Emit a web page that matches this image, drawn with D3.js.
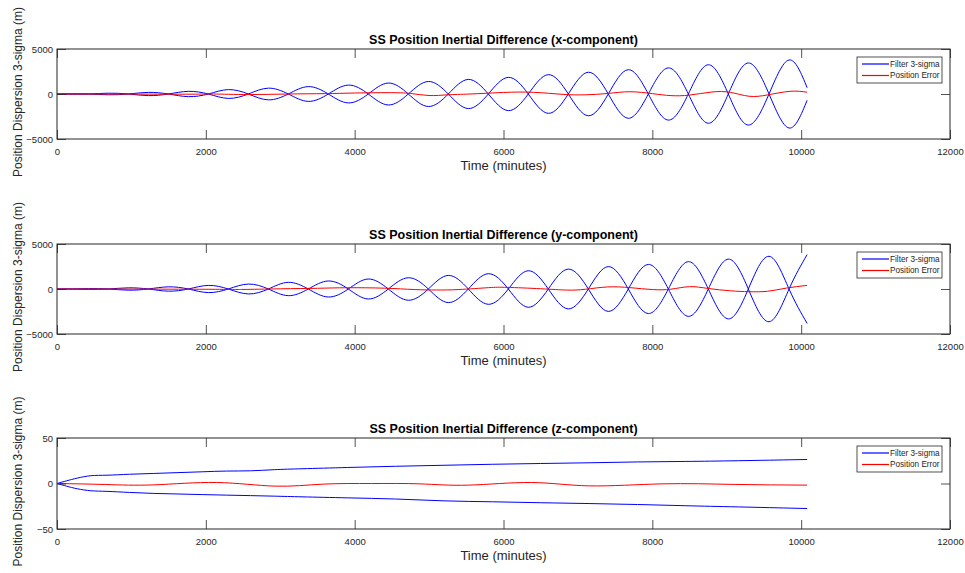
<!DOCTYPE html>
<html><head><meta charset="utf-8">
<script src="https://cdn.jsdelivr.net/npm/d3@7"></script>
<style>
html,body{margin:0;padding:0;background:#fff;}
svg{display:block;font-family:"Liberation Sans",Arial,Helvetica,sans-serif;}
</style></head>
<body>
<svg id="chart" width="965" height="573"></svg>
<script>
// ---------------- data ----------------
const timeTicks = [0, 2000, 4000, 6000, 8000, 10000, 12000];
const titles = [
  "SS Position Inertial Difference (x-component)",
  "SS Position Inertial Difference (y-component)",
  "SS Position Inertial Difference (z-component)"
];
const legendLabels = ["Filter 3-sigma", "Position Error"];
const yTicksXY = [-5000, 0, 5000];
const yTicksZ = [-50, 0, 50];

// x-component: filter 3-sigma (zero crossings and lobe peaks), plotted as +/-
const sigXTime = [0, 152, 421, 690, 958, 1227, 1496, 1765, 2033, 2302, 2571, 2840, 3108, 3377, 3646, 3915, 4183, 4452, 4721, 4990, 5258, 5527, 5796, 6065, 6333, 6602, 6871, 7140, 7408, 7677, 7946, 8215, 8484, 8752, 9021, 9290, 9568, 9837, 10080];
const sigXVal  = [0, 20, 0, -90, 0, 180, 0, -295, 0, 490, 0, -650, 0, 820, 0, -990, 0, 1220, 0, -1390, 0, 1620, 0, -1850, 0, 2150, 0, -2420, 0, 2700, 0, -2900, 0, 3250, 0, -3450, 0, 3780, 700];
// x-component: position error
const errXTime = [0, 1000, 1800, 2100, 2570, 3100, 3600, 4000, 4450, 4750, 5000, 5250, 5550, 6000, 6400, 6800, 7100, 7400, 7700, 8000, 8250, 8500, 8800, 9050, 9300, 9550, 9850, 10080];
const errXVal  = [0, -10, -20, 0, -60, 0, 40, 110, 150, 60, -170, -90, 0, 170, 190, -40, -90, 60, 250, 40, -180, -120, 220, 180, -250, -100, 300, 200];

// y-component: filter 3-sigma
const sigYTime = [0, 152, 421, 690, 958, 1227, 1496, 1765, 2033, 2302, 2571, 2840, 3108, 3377, 3646, 3915, 4183, 4452, 4721, 4990, 5258, 5527, 5796, 6065, 6333, 6602, 6871, 7140, 7408, 7677, 7946, 8215, 8484, 8752, 9021, 9290, 9568, 9837, 10080];
const sigYVal  = [0, 0, 40, 0, -130, 0, 240, 0, -400, 0, 550, 0, -740, 0, 890, 0, -1110, 0, 1250, 0, -1510, 0, 1700, 0, -2030, 0, 2214, 0, -2490, 0, 2730, 0, -3040, 0, 3320, 0, -3635, 0, 3820];
// y-component: position error
const errYTime = [0, 2000, 2500, 3000, 3500, 3900, 4400, 4800, 5100, 5400, 5800, 6050, 6500, 6850, 7100, 7400, 7700, 8000, 8250, 8500, 8750, 9050, 9300, 9550, 9800, 10080];
const errYVal  = [0, -30, -50, 20, 80, 140, 90, -60, -110, -60, 150, 180, 30, -120, -30, 230, 150, -60, -20, 260, 60, -200, -300, -250, 100, 400];

// z-component: filter 3-sigma upper and lower
const sigZTime  = [0, 130, 260, 455, 650, 975, 1300, 1626, 1950, 2276, 2600, 2927, 3252, 3900, 4550, 5200, 5850, 6500, 7150, 7800, 8450, 9100, 10080];
const sigZUpper = [0, 3.0, 5.8, 9.2, 8.8, 10.3, 11, 12, 12.8, 13.9, 13.6, 15.4, 16.1, 17.6, 19, 20, 21.2, 22, 22.7, 23.8, 24.2, 24.9, 26.4];
const sigZLower = [0, -3.0, -5.8, -8.4, -8.4, -9.9, -11, -11.5, -12.2, -12.8, -13.3, -13.9, -14.6, -15.8, -16.8, -19.4, -20, -21.2, -22, -23, -24.5, -25.6, -27.5];
// z-component: position error
const errZTime = [0, 650, 1300, 2146, 2927, 3577, 4228, 4878, 5528, 6374, 7154, 8130, 9100, 10080];
const errZVal  = [0, -1.1, -1.5, 1.1, -2.9, -0.7, 0, -0.4, -1.8, 1.1, -2.6, -0.4, -1.0, -1.8];

// ---------------- drawing ----------------
const svg = d3.select("#chart");
const axisColor = "#262626";
const left = 57, right = 950;
const panels = [
  {top: 49, bottom: 139, yDomain: [-5000, 5000], yTicks: yTicksXY, title: titles[0],
   series: [
     {t: sigXTime, v: sigXVal, color: "#0000ff", curve: d3.curveNatural},
     {t: sigXTime, v: sigXVal.map(d => -d), color: "#0000ff", curve: d3.curveNatural},
     {t: errXTime, v: errXVal, color: "#ff0000", curve: d3.curveNatural}]},
  {top: 244, bottom: 334, yDomain: [-5000, 5000], yTicks: yTicksXY, title: titles[1],
   series: [
     {t: sigYTime, v: sigYVal, color: "#0000ff", curve: d3.curveNatural},
     {t: sigYTime, v: sigYVal.map(d => -d), color: "#0000ff", curve: d3.curveNatural},
     {t: errYTime, v: errYVal, color: "#ff0000", curve: d3.curveNatural}]},
  {top: 438, bottom: 529, yDomain: [-50, 50], yTicks: yTicksZ, title: titles[2],
   series: [
     {t: sigZTime, v: sigZUpper, color: "#0000ff", curve: d3.curveBasis},
     {t: sigZTime, v: sigZLower, color: "#0000ff", curve: d3.curveBasis},
     {t: errZTime, v: errZVal, color: "#ff0000", curve: d3.curveNatural}]}
];

const x = d3.scaleLinear().domain([0, 12000]).range([left, right]);
const tickLen = 9;

panels.forEach((p, pi) => {
  const y = d3.scaleLinear().domain(p.yDomain).range([p.bottom, p.top]);
  const g = svg.append("g");

  // data lines
  const clipId = "clip" + pi;
  svg.append("clipPath").attr("id", clipId).append("rect")
    .attr("x", left).attr("y", p.top).attr("width", right - left).attr("height", p.bottom - p.top);
  p.series.forEach(s => {
    const lineGen = d3.line().x(d => x(d[0])).y(d => y(d[1])).curve(s.curve);
    const pts = s.t.map((t, i) => [t, s.v[i]]);
    g.append("path").attr("d", lineGen(pts)).attr("fill", "none")
      .attr("stroke", s.color).attr("stroke-width", 1).attr("clip-path", `url(#${clipId})`);
  });

  // axes: ticks inside on all four sides
  const xAxisB = d3.axisBottom(x).tickValues(timeTicks).tickFormat(d3.format("d")).tickSizeInner(-tickLen).tickSizeOuter(0).tickPadding(tickLen + 3);
  const gxb = g.append("g").attr("transform", `translate(0,${p.bottom})`).call(xAxisB);
  const xAxisT = d3.axisTop(x).tickValues(timeTicks).tickFormat("").tickSizeInner(-tickLen).tickSizeOuter(0);
  const gxt = g.append("g").attr("transform", `translate(0,${p.top})`).call(xAxisT);
  const yAxisL = d3.axisLeft(y).tickValues(p.yTicks).tickFormat(d3.format("d")).tickSizeInner(-tickLen).tickSizeOuter(0).tickPadding(4);
  const gyl = g.append("g").attr("transform", `translate(${left},0)`).call(yAxisL);
  const yAxisR = d3.axisRight(y).tickValues(p.yTicks).tickFormat("").tickSizeInner(-tickLen).tickSizeOuter(0);
  const gyr = g.append("g").attr("transform", `translate(${right},0)`).call(yAxisR);
  [gxb, gxt, gyl, gyr].forEach(a => {
    a.select(".domain").remove();
    a.selectAll(".tick line").attr("stroke", axisColor).attr("stroke-width", 0.8);
    a.selectAll(".tick text").attr("fill", axisColor).attr("font-size", 9.5).attr("font-family", "Liberation Sans, Arial, sans-serif");
  });
  gxb.selectAll(".tick text").attr("dy", "0.45em");

  // box
  g.append("rect").attr("x", left).attr("y", p.top).attr("width", right - left).attr("height", p.bottom - p.top)
    .attr("fill", "none").attr("stroke", axisColor).attr("stroke-width", 1);

  // title
  g.append("text").attr("x", (left + right) / 2).attr("y", p.top - 5).attr("text-anchor", "middle")
    .attr("font-size", 12.5).attr("font-weight", "bold").attr("fill", "#000").text(p.title);
  // x label
  g.append("text").attr("x", (left + right) / 2).attr("y", p.bottom + 31).attr("text-anchor", "middle")
    .attr("font-size", 13).attr("fill", axisColor).text("Time (minutes)");
  // y label
  const cy = (p.top + p.bottom) / 2 - 2;
  g.append("text").attr("transform", `translate(22,${cy}) rotate(-90)`).attr("text-anchor", "middle")
    .attr("font-size", 12).attr("fill", axisColor).text("Position Dispersion 3-sigma (m)");

  // legend
  const lx = 857, ly = p.top + 8, lw = 85, lh = 26;
  const lg = svg.append("g").attr("class", "legend");
  lg.append("rect").attr("x", lx).attr("y", ly).attr("width", lw).attr("height", lh)
    .attr("fill", "#fff").attr("stroke", axisColor).attr("stroke-width", 0.8);
  const legColors = ["#0000ff", "#ff0000"];
  legendLabels.forEach((lab, i) => {
    const yy = ly + 7 + i * 11.5;
    lg.append("path").attr("d", `M${lx + 5},${yy}H${lx + 32}`)
      .attr("stroke", legColors[i]).attr("stroke-width", 1.2).attr("fill", "none");
    lg.append("text").attr("x", lx + 33).attr("y", yy).attr("dy", "0.35em")
      .attr("font-size", 8.2).attr("fill", axisColor).text(lab);
  });
});
</script>
</body></html>
